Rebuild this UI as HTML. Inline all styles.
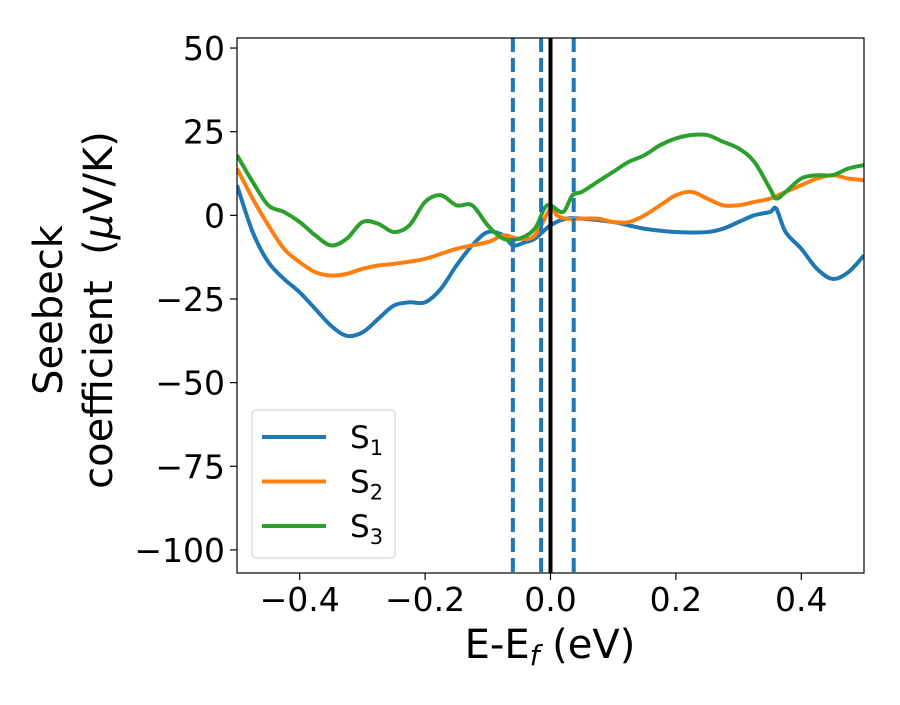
<!DOCTYPE html>
<html><head><meta charset="utf-8"><style>
body{margin:0;background:#fff;}
svg{font-family:"DejaVu Sans","Liberation Sans",sans-serif;}
</style></head><body>
<svg id="chart" width="900" height="700">
<g id="plot"></g>
</svg>
<script>
const s1x=[-0.5,-0.475,-0.45,-0.425,-0.4,-0.375,-0.35,-0.325,-0.3,-0.275,-0.25,-0.225,-0.2,-0.175,-0.15,-0.125,-0.1,-0.075,-0.06,-0.04,-0.025,0,0.025,0.05,0.1,0.125,0.15,0.2,0.25,0.275,0.3,0.325,0.35,0.36,0.375,0.4,0.425,0.45,0.475,0.5];
const s1y=[9,-5,-14,-19,-23,-28,-33,-36,-35,-31,-27,-26,-26,-22,-15,-9,-5,-6,-9,-8,-7,-3,-1,-1,-2,-3,-4,-5,-5,-4,-2,0,1,2,-5,-10,-16,-19,-17,-12];
const s2x=[-0.5,-0.475,-0.45,-0.425,-0.4,-0.375,-0.35,-0.325,-0.3,-0.275,-0.25,-0.2,-0.15,-0.1,-0.075,-0.05,-0.025,0,0.01,0.025,0.05,0.075,0.1,0.125,0.15,0.175,0.2,0.225,0.25,0.275,0.3,0.325,0.35,0.375,0.4,0.425,0.45,0.475,0.5];
const s2y=[14,5,-3,-10,-14,-17,-18,-17.5,-16,-15,-14.5,-13,-10,-8,-6,-7,-6,2,0,-1,-1,-1,-2,-2,0,3,6,7,5,3,3,4,5,7,9,11,12,11,10.5];
const s3x=[-0.5,-0.475,-0.45,-0.425,-0.4,-0.375,-0.35,-0.325,-0.3,-0.275,-0.25,-0.225,-0.2,-0.175,-0.15,-0.125,-0.1,-0.075,-0.05,-0.025,-0.01,0,0.02,0.035,0.05,0.075,0.1,0.125,0.15,0.175,0.2,0.225,0.25,0.275,0.3,0.325,0.35,0.36,0.375,0.4,0.425,0.45,0.475,0.5];
const s3y=[18,10,3,1,-2,-6,-9,-7,-2,-2.5,-5,-3,4,6,3,3,-3,-7,-7,-4,2,3,1,6,7,10,13,16,18,21,23,24,24,22,20,16,8,5,7,11,12,12,14,15];
const dashedLines=[-0.06,-0.015,0.037];
const xTicks=[-0.4,-0.2,0,0.2,0.4];
const xTickLabels=["\u22120.4","\u22120.2","0.0","0.2","0.4"];
const yTicks=[50,25,0,-25,-50,-75,-100];
const yTickLabels=["50","25","0","\u221225","\u221250","\u221275","\u2212100"];

const L=237,R=864,T=38,B=573;
const xmin=-0.5,xmax=0.5,ymin=-106.9,ymax=53;
const X=v=>L+(v-xmin)/(xmax-xmin)*(R-L);
const Y=v=>B-(v-ymin)/(ymax-ymin)*(B-T);
const NS="http://www.w3.org/2000/svg";
const g=document.getElementById('plot');
function mk(t,a,p){const e=document.createElementNS(NS,t);for(const k in a)e.setAttribute(k,a[k]);(p||g).appendChild(e);return e;}
const clip=mk('clipPath',{id:'cp'});mk('rect',{x:L,y:T,width:R-L,height:B-T},clip);
function path(xs,ys){const p=xs.map((x,i)=>[X(x),Y(ys[i])]);let d=`M${p[0][0]},${p[0][1]}`;
for(let i=0;i<p.length-1;i++){const p0=p[Math.max(0,i-1)],p1=p[i],p2=p[i+1],p3=p[Math.min(p.length-1,i+2)];
d+=` C${p1[0]+(p2[0]-p0[0])/6},${p1[1]+(p2[1]-p0[1])/6} ${p2[0]-(p3[0]-p1[0])/6},${p2[1]-(p3[1]-p1[1])/6} ${p2[0]},${p2[1]}`;}return d;}
const series=[[s1x,s1y,'#1f77b4','series-s1'],[s2x,s2y,'#ff7f0e','series-s2'],[s3x,s3y,'#2ca02c','series-s3']];
series.forEach(s=>{const e=mk('path',{d:path(s[0],s[1]),fill:'none',stroke:s[2],'stroke-width':4,'clip-path':'url(#cp)'});

});
dashedLines.forEach(v=>{const e=mk('line',{x1:X(v),x2:X(v),y1:T,y2:B,stroke:'#1f77b4','stroke-width':4,'stroke-dasharray':'14,6'});

});
const f=mk('line',{x1:X(0),x2:X(0),y1:T,y2:B,stroke:'#000','stroke-width':4});


const fr=mk('rect',{x:L,y:T,width:R-L,height:B-T,fill:'none',stroke:'#000','stroke-width':1.2});


xTicks.forEach((v,i)=>{mk('line',{x1:X(v),x2:X(v),y1:B,y2:B+7,stroke:'#000','stroke-width':1.2});
const t=mk('text',{x:X(v),y:B+38,'text-anchor':'middle','font-size':33});t.textContent=xTickLabels[i];

});
yTicks.forEach((v,i)=>{mk('line',{x1:L-7,x2:L,y1:Y(v),y2:Y(v),stroke:'#000','stroke-width':1.2});
const t=mk('text',{x:L-12,y:Y(v)+12,'text-anchor':'end','font-size':33});t.textContent=yTickLabels[i];

});
const lg=mk('g',{});


mk('rect',{x:252,y:410,width:143,height:148,rx:4,fill:'#fff',stroke:'#ccc','stroke-width':1},lg);
const labs=['1','2','3'];
series.forEach((s,i)=>{const y=437+i*44.5;
mk('line',{x1:262,x2:326,y1:y,y2:y,stroke:s[2],'stroke-width':4},lg);
const t=mk('text',{x:350,y:y+11,'font-size':31},lg);t.innerHTML='S<tspan font-size="21" dy="7">'+labs[i]+'</tspan>';

});
</script>
<svg width="900" height="700" style="position:absolute;left:0;top:0">
<text x="550" y="658" text-anchor="middle" font-size="40" font-family="DejaVu Sans,sans-serif">E-E<tspan font-size="28" dy="7" font-style="italic">f</tspan><tspan dy="-7"> (eV)</tspan></text>
<g transform="translate(62,310) rotate(-90)" font-family="DejaVu Sans,sans-serif" font-size="40">
<text x="0" y="0" text-anchor="middle">Seebeck</text>
<text x="0" y="50" text-anchor="middle">coefficient&#160; (<tspan font-style="italic">μ</tspan>V/K)</text>
</g>
</svg>
</body></html>
